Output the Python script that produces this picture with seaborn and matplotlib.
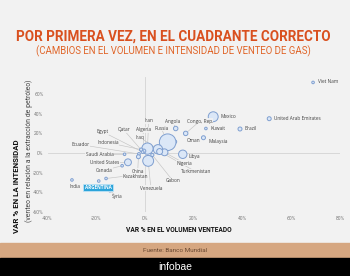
import numpy as np
import pandas as pd
import seaborn as sns
import matplotlib.pyplot as plt

# datos (var % volumen, var % intensidad, volumen estimado)
paises = ["Viet Nam", "United Arab Emirates", "Brazil", "Kuwait", "Malaysia", "Mexico",
          "Angola", "Congo, Rep.", "Oman", "Libya", "Russia", "Iraq", "Iran", "Nigeria",
          "Turkmenistan", "Venezuela", "Gabon", "Algeria", "Qatar", "Egypt", "Indonesia",
          "Ecuador", "China", "Saudi Arabia", "United States", "Canada", "Kazakhstan",
          "ARGENTINA", "Syria", "India"]
var_volumen = [69, 51, 39, 25, 24, 28, 12.6, 16.7, 12.3, 15.5, 9.3, 5.3, 1.0, 8.0,
               6.0, 1.3, 3.0, -0.5, -1.5, -1.0, -1.6, -2.5, -2.7, -8.4, -7.0, -9.4, -16.0,
               -19.0, -14.4, -30.0]
var_intensidad = [72, 35, 24.5, 25, 15.6, 37, 25, 20, 11.5, -1.3, 11, 3.8, 4.5, 0.7,
                  1.5, -8.0, -2.0, 2.0, 3.0, 1.0, 3.5, -1.0, -3.8, -1.3, -9.5, -13.0, -26.0,
                  -28.6, -38.5, -27.5]
volumen = [1.7, 4, 4, 1.7, 4, 25, 5, 5, 3, 18, 70, 22, 32, 12,
           9, 30, 2.5, 4, 2, 2, 2.5, 2, 4, 1.7, 12, 1.7, 1.7,
           1.7, 1.7, 1.7]

# posicion de las etiquetas (en unidades de datos) y alineacion
etiqueta_x = [71, 53, 41, 27, 26, 31, 11.5, 22.5, 17, 18, 6.7, -2.2, 1.5, 16.2,
              20.8, 2.4, 11.4, -0.8, -8.7, -17.5, -15.2, -26.4, -3, -18.6, -16.6, -16.9, -9.4,
              -19.3, -11.4, -28.6]
etiqueta_y = [72.5, 35, 24.5, 25.5, 11.5, 37.5, 32, 32.6, 13, -3.4, 25, 16, 33, -10.5,
              -19, -36, -28.2, 23.5, 23.5, 21.8, 10.5, 8.5, -18.4, -2, -9.9, -17.7, -24,
              -35.4, -44.6, -34.4]
alineacion = ["left", "left", "left", "left", "left", "left", "center", "center", "left",
              "left", "center", "center", "center", "center", "center", "center", "center",
              "center", "center", "center", "center", "center", "center", "center", "center",
              "center", "left", "center", "center", "center"]
linea = [False, False, False, False, False, False, True, True, False, False, True, True,
         True, True, True, True, True, True, True, True, True, True, True, True, True,
         True, True, False, True, False]

x_ticks = [-40, -20, 0, 20, 40, 60, 80]
y_ticks = [-60, -40, -20, 0, 20, 40, 60]

df = pd.DataFrame({"pais": paises, "vol": var_volumen, "int": var_intensidad, "tam": volumen})

bg = "#f2f2f2"
plt.rcParams["font.family"] = ["Roboto", "DejaVu Sans"]

fig = plt.figure(figsize=(3.5, 2.76), dpi=100, facecolor=bg)
ax = fig.add_axes([0.136, 0.2326, 0.835, 0.49])
ax.set_facecolor(bg)

ax.axhline(0, color="#d4d4d4", lw=0.6, zorder=0)
ax.axvline(0, color="#d4d4d4", lw=0.6, zorder=0)

# lineas de las etiquetas
for px, py, lx, ly, l in zip(var_volumen, var_intensidad, etiqueta_x, etiqueta_y, linea):
    if l:
        ax.plot([px, lx], [py, ly], color="#c4c4c4", lw=0.45, zorder=1)

sns.scatterplot(data=df, x="vol", y="int", size="tam", sizes=(3.5, 143), size_norm=(1.7, 70),
                color="#dbe7f7", edgecolor="#7f9fd0", linewidth=0.7, legend=False, ax=ax, zorder=3)

for p, lx, ly, ha in zip(paises, etiqueta_x, etiqueta_y, alineacion):
    if p == "ARGENTINA":
        ax.text(lx, ly, p, fontsize=3.3, color="white", fontweight="bold", ha="center", va="center",
                zorder=5, family=["Open Sans", "DejaVu Sans"],
                bbox=dict(boxstyle="square,pad=0.25", fc="#2ba4da", ec="#bfe3f5", lw=0.6))
    else:
        ax.text(lx, ly, p, fontsize=3.4, color="#444444", ha=ha, va="center", zorder=4,
                family=["Open Sans", "DejaVu Sans"],
                bbox=dict(boxstyle="square,pad=0.1", fc=bg, ec="none", alpha=0.9) if ha == "center" else None)

ax.set_xlim(-40, 80)
ax.set_ylim(-60, 78)
ax.set_xticks(x_ticks)
ax.set_yticks(y_ticks)
ax.set_xticklabels([f"{t}%" for t in x_ticks])
ax.set_yticklabels([f"{t}%" for t in y_ticks])
ax.tick_params(length=0, labelsize=3.6, labelcolor="#7a7a7a", pad=3)
for s in ax.spines.values():
    s.set_visible(False)
ax.set_xlabel("")
ax.set_ylabel("")

renderer = fig.canvas.get_renderer()


def ajustar(t, ancho, vertical=False):
    # escala la fuente para que el texto ocupe el ancho dado (px)
    bb = t.get_window_extent(renderer=renderer)
    medida = bb.height if vertical else bb.width
    t.set_fontsize(t.get_fontsize() * ancho / medida)


t1 = fig.text(0.494, 0.866, "POR PRIMERA VEZ, EN EL CUADRANTE CORRECTO", ha="center", va="center",
              fontsize=12, fontweight="bold", color="#d9501f")
ajustar(t1, 314)
t2 = fig.text(0.495, 0.815, "(CAMBIOS EN EL VOLUMEN E INTENSIDAD DE VENTEO DE GAS)", ha="center",
              va="center", fontsize=7, color="#e0662a")
ajustar(t2, 278)

t3 = fig.text(0.511, 0.165, "VAR % EN EL VOLUMEN VENTEADO", ha="center", va="center",
              fontsize=7, fontweight="bold", color="#111111")
ajustar(t3, 106)
t4 = fig.text(0.046, 0.326, "VAR % EN LA INTENSIDAD", ha="center", va="center", rotation=90,
              fontsize=7, fontweight="bold", color="#111111")
ajustar(t4, 95, vertical=True)
t5 = fig.text(0.082, 0.453, "(venteo en relación a la extracción de petróleo)", ha="center",
              va="center", rotation=90, fontsize=5.6, color="#444444")
ajustar(t5, 142, vertical=True)

# pie
fig.patches.append(plt.Rectangle((0, 0.0652), 1, 0.0543, transform=fig.transFigure,
                                 color="#d6a781", zorder=0))
fig.patches.append(plt.Rectangle((0, 0), 1, 0.0652, transform=fig.transFigure,
                                 color="#000000", zorder=0))
fig.text(0.5, 0.092, "Fuente: Banco Mundial", ha="center", va="center", fontsize=4.6,
         color="#6b4a33")
fig.text(0.5, 0.033, "infobae", ha="center", va="center", fontsize=7.5, color="white",
         family=["Liberation Sans", "DejaVu Sans"])

fig.savefig("out.png", dpi=100, facecolor=bg)
